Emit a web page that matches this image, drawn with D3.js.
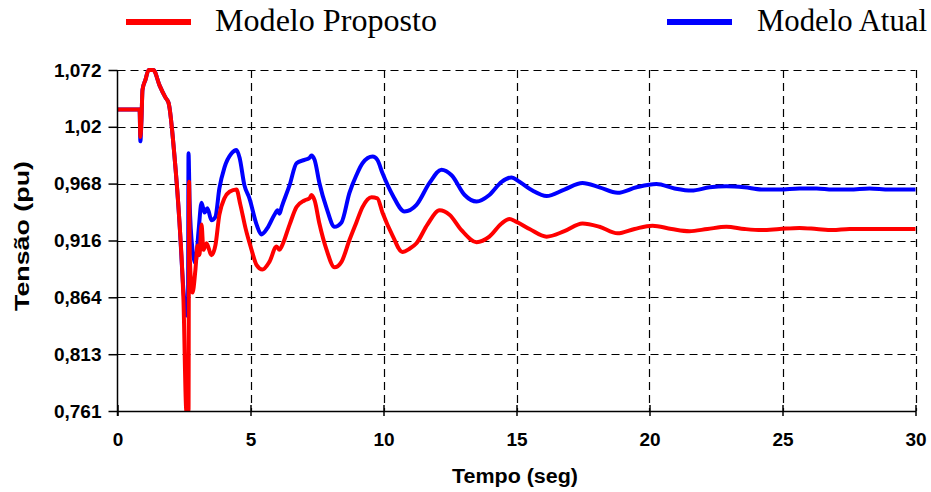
<!DOCTYPE html>
<html>
<head>
<meta charset="utf-8">
<script src="https://cdn.jsdelivr.net/npm/d3@7"></script>
<style>
  html, body { margin: 0; padding: 0; background: #fff; }
  svg { display: block; }
</style>
</head>
<body>
<svg id="chart" width="931" height="492"></svg>
<script>
// ---- Data ----
const seriesNames = ["Modelo Proposto", "Modelo Atual"];
const seriesColors = ["#ff0000", "#0000ff"];

const timeProposto = [0, 0.83, 0.86, 0.9, 0.94, 1.05, 1.17, 1.35, 1.58, 1.80, 1.92, 2.14, 2.33, 2.48, 2.59, 2.67, 2.69, 2.72, 2.82, 2.93, 3.01, 3.08, 3.16, 3.23, 3.35, 3.53, 3.68, 3.83, 4.02, 4.21, 4.47, 4.62, 4.81, 5.04, 5.23, 5.45, 5.71, 5.98, 6.09, 6.17, 6.47, 6.73, 7.03, 7.22, 7.29, 7.41, 7.59, 7.86, 8.16, 8.42, 8.72, 8.98, 9.21, 9.55, 9.77, 9.96, 10.34, 10.71, 10.98, 11.24, 11.65, 12.11, 12.48, 12.93, 13.50, 13.98, 14.44, 14.74, 14.96, 15.49, 16.13, 16.80, 17.48, 18.12, 18.80, 19.44, 20.11, 20.83, 21.50, 22.18, 22.89, 23.57, 24.21, 24.89, 25.64, 26.28, 26.88, 27.52, 28.16, 29.02, 30];
const tensaoProposto = [1.036, 1.036, 1.011, 1.026, 1.054, 1.063, 1.072, 1.072, 1.058, 1.047, 1.042, 0.994, 0.933, 0.862, 0.761, 0.761, 0.970, 0.899, 0.869, 0.890, 0.912, 0.903, 0.931, 0.908, 0.914, 0.903, 0.912, 0.940, 0.955, 0.961, 0.963, 0.949, 0.928, 0.908, 0.894, 0.890, 0.897, 0.911, 0.908, 0.911, 0.931, 0.947, 0.953, 0.955, 0.958, 0.953, 0.932, 0.908, 0.892, 0.897, 0.917, 0.933, 0.947, 0.956, 0.955, 0.942, 0.921, 0.906, 0.909, 0.914, 0.931, 0.944, 0.940, 0.926, 0.915, 0.920, 0.932, 0.936, 0.934, 0.927, 0.920, 0.925, 0.932, 0.929, 0.923, 0.927, 0.930, 0.927, 0.925, 0.927, 0.929, 0.927, 0.926, 0.927, 0.928, 0.927, 0.926, 0.927, 0.927, 0.927, 0.927];

const timeAtual = [0, 0.83, 0.86, 0.9, 0.94, 1.05, 1.17, 1.35, 1.58, 1.80, 1.92, 2.14, 2.33, 2.48, 2.59, 2.65, 2.67, 2.71, 2.82, 2.93, 3.05, 3.16, 3.27, 3.38, 3.53, 3.68, 3.83, 4.02, 4.29, 4.47, 4.59, 4.77, 4.96, 5.23, 5.41, 5.64, 5.90, 6.02, 6.09, 6.17, 6.47, 6.73, 7.03, 7.22, 7.29, 7.41, 7.59, 7.86, 8.16, 8.42, 8.72, 8.98, 9.21, 9.59, 9.77, 9.96, 10.34, 10.79, 11.24, 11.73, 12.18, 12.56, 13.05, 13.50, 13.98, 14.44, 14.81, 15.11, 15.60, 16.13, 16.80, 17.48, 18.12, 18.80, 19.51, 20.26, 20.94, 21.58, 22.26, 22.89, 23.57, 24.21, 24.89, 25.64, 26.28, 26.88, 27.52, 28.27, 29.02, 30];
const tensaoAtual = [1.036, 1.036, 1.007, 1.026, 1.054, 1.063, 1.072, 1.072, 1.058, 1.047, 1.042, 0.994, 0.933, 0.871, 0.848, 0.848, 0.996, 0.953, 0.908, 0.896, 0.926, 0.951, 0.942, 0.946, 0.935, 0.938, 0.964, 0.983, 0.996, 0.999, 0.992, 0.967, 0.955, 0.931, 0.922, 0.928, 0.940, 0.944, 0.941, 0.947, 0.967, 0.987, 0.990, 0.992, 0.994, 0.990, 0.969, 0.946, 0.929, 0.933, 0.960, 0.976, 0.987, 0.993, 0.990, 0.978, 0.958, 0.943, 0.949, 0.969, 0.981, 0.976, 0.958, 0.952, 0.958, 0.970, 0.974, 0.970, 0.962, 0.957, 0.963, 0.969, 0.965, 0.960, 0.965, 0.968, 0.964, 0.962, 0.965, 0.966, 0.965, 0.963, 0.963, 0.964, 0.964, 0.963, 0.963, 0.964, 0.963, 0.963];

const xTickValues = [0, 5, 10, 15, 20, 25, 30];
const xTickLabels = ["0", "5", "10", "15", "20", "25", "30"];
const yTickValues = [0.761, 0.8128, 0.8647, 0.9165, 0.9684, 1.0202, 1.072];
const yTickLabels = ["0,761", "0,813", "0,864", "0,916", "0,968", "1,02", "1,072"];

const xTitle = "Tempo (seg)";
const yTitle = "Tensão (pu)";

// ---- Layout ----
const plotLeft = 117.5, plotRight = 915.5, plotTop = 70, plotBottom = 411;
const svg = d3.select("#chart");

const x = d3.scaleLinear().domain([0, 30]).range([plotLeft, plotRight]);
const y = d3.scaleLinear().domain([0.761, 1.072]).range([plotBottom, plotTop]);

// grid
const grid = svg.append("g").attr("stroke", "#000").attr("stroke-width", 1.2).attr("stroke-dasharray", "8,5");
grid.selectAll("line.h").data(yTickValues.slice(1)).enter().append("line")
  .attr("x1", plotLeft).attr("x2", plotRight)
  .attr("y1", d => Math.round(y(d)) + 0.5).attr("y2", d => Math.round(y(d)) + 0.5);
grid.selectAll("line.v").data(xTickValues.slice(1)).enter().append("line")
  .attr("y1", plotTop).attr("y2", plotBottom)
  .attr("x1", d => Math.round(x(d)) + 0.5).attr("x2", d => Math.round(x(d)) + 0.5);

// clip
svg.append("clipPath").attr("id", "plotclip").append("rect")
  .attr("x", plotLeft - 3).attr("y", plotTop - 4).attr("width", plotRight - plotLeft + 6).attr("height", plotBottom - plotTop + 4);

const line = d3.line().x(d => x(d[0])).y(d => y(d[1])).curve(d3.curveMonotoneX);

const dataAtual = timeAtual.map((t, i) => [t, tensaoAtual[i]]);
const dataProposto = timeProposto.map((t, i) => [t, tensaoProposto[i]]);

const plot = svg.append("g").attr("clip-path", "url(#plotclip)");
plot.append("path").datum(dataAtual).attr("d", line)
  .attr("fill", "none").attr("stroke", seriesColors[1]).attr("stroke-width", 4).attr("stroke-linejoin", "round");
plot.append("path").datum(dataProposto).attr("d", line)
  .attr("fill", "none").attr("stroke", seriesColors[0]).attr("stroke-width", 4).attr("stroke-linejoin", "round");

// axes
const fontTick = "'Liberation Sans', Arial, sans-serif";
const yAxis = d3.axisLeft(y).tickValues(yTickValues)
  .tickFormat((d, i) => yTickLabels[i]).tickSizeInner(9).tickSizeOuter(0).tickPadding(7);
const gy = svg.append("g").attr("transform", `translate(${plotLeft},0)`).call(yAxis);
gy.select(".domain").attr("stroke", "#000").attr("stroke-width", 1.5).attr("d", `M0,${plotTop}V${plotBottom + 5}`);
gy.selectAll(".tick line").attr("stroke", "#000").attr("stroke-width", 1.5);
gy.selectAll(".tick text").attr("font-family", fontTick).attr("font-weight", "bold")
  .attr("font-size", 19).attr("fill", "#000");

const xAxis = d3.axisBottom(x).tickValues(xTickValues)
  .tickFormat((d, i) => xTickLabels[i]).tickSizeInner(5).tickSizeOuter(0).tickPadding(17);
const gx = svg.append("g").attr("transform", `translate(0,${plotBottom})`).call(xAxis);
gx.select(".domain").attr("stroke", "#000").attr("stroke-width", 1.5);
gx.selectAll(".tick line").attr("stroke", "#000").attr("stroke-width", 1.5).attr("y1", -6).attr("y2", 5);
gx.selectAll(".tick text").attr("font-family", fontTick).attr("font-weight", "bold")
  .attr("font-size", 19).attr("fill", "#000");

// titles
svg.append("text").attr("x", 515).attr("y", 483).attr("text-anchor", "middle")
  .attr("font-family", fontTick).attr("font-weight", "bold").attr("font-size", 20)
  .attr("textLength", 126).attr("lengthAdjust", "spacingAndGlyphs")
  .text(xTitle);
svg.append("text").attr("transform", "translate(29,236) rotate(-90)").attr("text-anchor", "middle")
  .attr("font-family", fontTick).attr("font-weight", "bold").attr("font-size", 20)
  .attr("textLength", 150).attr("lengthAdjust", "spacingAndGlyphs")
  .text(yTitle);

// legend
const legendItems = [
  { name: seriesNames[0], color: seriesColors[0], x1: 126, x2: 191, tx: 215, len: 222 },
  { name: seriesNames[1], color: seriesColors[1], x1: 667, x2: 732, tx: 757, len: 170 }
];
const lg = svg.append("g");
lg.selectAll("line").data(legendItems).enter().append("line")
  .attr("x1", d => d.x1).attr("x2", d => d.x2).attr("y1", 22).attr("y2", 22)
  .attr("stroke", d => d.color).attr("stroke-width", 6);
lg.selectAll("text").data(legendItems).enter().append("text")
  .attr("x", d => d.tx).attr("y", 31)
  .attr("font-family", "'Liberation Serif', 'Times New Roman', serif").attr("font-size", 31).attr("fill", "#000")
  .attr("textLength", d => d.len).attr("lengthAdjust", "spacingAndGlyphs")
  .text(d => d.name);
</script>
</body>
</html>
